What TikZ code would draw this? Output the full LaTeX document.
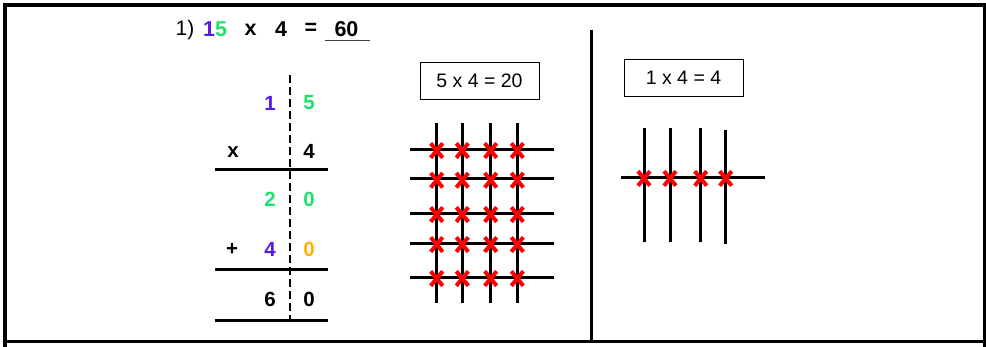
\documentclass[tikz,border=0pt]{standalone}
\usepackage{fontspec}
\setmainfont{Liberation Sans}
\definecolor{purp}{HTML}{5A1AE6}
\definecolor{grn}{HTML}{1EE36B}
\definecolor{org}{HTML}{FFB300}
\definecolor{xred}{HTML}{FF0000}
\begin{document}
\begin{tikzpicture}[x=1pt,y=-1pt,
  frame/.style={line width=3.5pt,black},
  rule/.style={line width=3pt,black},
  grid/.style={line width=3pt,black},
  digit/.style={font=\fontsize{20.5}{20.5}\selectfont\bfseries,inner sep=0pt,anchor=center},
  tdigit/.style={font=\fontsize{21.5}{21.5}\selectfont\bfseries,inner sep=0pt,anchor=center},
  eqbox/.style={draw,line width=0.8pt,minimum width=119pt,minimum height=37pt,font=\fontsize{19.5}{19.5}\selectfont,inner sep=0pt},
  xmark/.style={line width=4pt,xred}]
\useasboundingbox (0,0) rectangle (986,347);
% frame
\draw[frame] (5,347) -- (5,5) -- (986,5);
\draw[frame] (984.5,5) -- (984.5,347);
\draw[line width=3pt] (3.5,342) -- (986,342);
\draw[line width=3pt] (591,30) -- (591,342);
% title
\node[tdigit,font=\fontsize{21}{21}\selectfont] (t1) at (185,30) {1)};
\node[tdigit] (t15) at (215,29) {\textcolor{purp}{1}\textcolor{grn}{5}};
\node[tdigit] (tx) at (250.5,29.5) {x};
\node[tdigit] (t4) at (281,29) {4};
\node[tdigit] (teq) at (311,29) {=};
\node[tdigit] (t60) at (346.5,29) {60};
\coordinate (ul1) at (325,41);
\coordinate (ul2) at (370,41);
\draw[line width=1pt,black!75] (ul1) -- (ul2);
% column arithmetic
\coordinate (dtop) at (290,75);
\coordinate (dbot) at (290,321);
\draw[line width=2.3pt,dash pattern=on 8pt off 4pt] (dtop) -- (dbot);
\node[digit,text=purp] (a1) at (270,103) {1};
\node[digit,text=grn] (a2) at (309,103) {5};
\node[digit] (bx) at (233,152) {x};
\node[digit] (b2) at (309,151) {4};
\coordinate (l1a) at (215,169.5); \coordinate (l1b) at (327.5,169.5);
\draw[rule] (l1a) -- (l1b);
\node[digit,text=grn] (c1) at (270,199) {2};
\node[digit,text=grn] (c2) at (309,199) {0};
\node[digit] (dp) at (232,249) {+};
\node[digit,text=purp] (d1) at (270,249) {4};
\node[digit,text=org] (d2) at (309,249) {0};
\coordinate (l2a) at (215,270); \coordinate (l2b) at (327.5,270);
\draw[rule] (l2a) -- (l2b);
\node[digit] (e1) at (270,299) {6};
\node[digit] (e2) at (309,299) {0};
\coordinate (l3a) at (215,321); \coordinate (l3b) at (327.5,321);
\draw[rule] (l3a) -- (l3b);
% box 1
\node[eqbox] (box1) at (479.5,80.5) {5 x 4 = 20};
% grid 1
\foreach \x in {436.7,462.3,490.7,517.3} \draw[grid] (\x,123) -- (\x,303);
\foreach \y in {149.3,179,213.3,243.3,277.3} \draw[grid] (410,\y) -- (554,\y);
\foreach \x in {436.7,462.3,490.7,517.3}
  \foreach \y in {149.3,179,213.3,243.3,277.3}
    \draw[xmark] (\x-6,\y-6) -- (\x+6,\y+8.5) (\x+6,\y-6) -- (\x-6,\y+8.5);
% box 2
\node[eqbox] (box2) at (683.5,77.5) {1 x 4 = 4};
% grid 2
\draw[grid] (644,128) -- (644,242);
\draw[grid] (670,128) -- (670,242);
\draw[grid] (700.7,128) -- (700.7,242);
\draw[grid] (725.7,130) -- (725.7,244);
\draw[grid] (621,177.7) -- (765,177.7);
\foreach \x in {644,670,700.7,725.7}
  \draw[xmark] (\x-6,171.2) -- (\x+6,185.7) (\x+6,171.2) -- (\x-6,185.7);
\end{tikzpicture}
\end{document}
